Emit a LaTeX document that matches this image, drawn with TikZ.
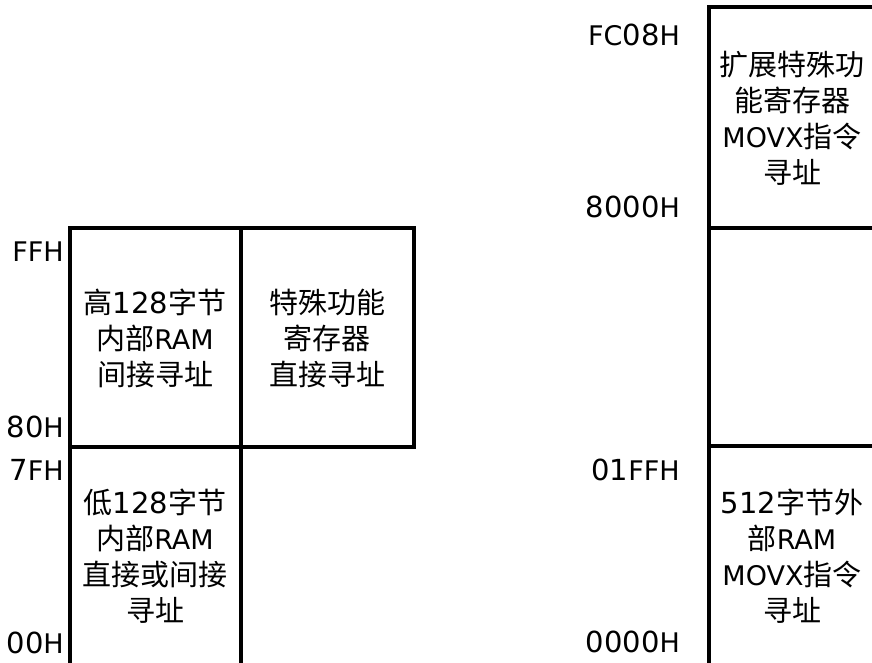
\documentclass[tikz,border=0pt]{standalone}
\usepackage{fontspec}
\setmainfont{DejaVu Sans}
\newfontfamily\cjk{Noto Sans CJK SC}
\newcommand\zh[1]{{\cjk #1}}
\newcommand\lat[1]{{\fontsize{27}{27}\selectfont #1}}
\tikzset{
  addr/.style={anchor=east, inner sep=0pt, font=\fontsize{29}{29}\selectfont},
  cell/.style={align=center, inner sep=0pt, font=\fontsize{29}{36}\selectfont},
  wall/.style={line width=3.5pt},
}
\begin{document}
\begin{tikzpicture}[x=1pt,y=-1pt]
\useasboundingbox (0,0) rectangle (872,663);

% internal RAM
\draw[wall] (70,663) -- (70,228) -- (414,228) -- (414,447) -- (70,447);
\draw[wall] (241,228) -- (241,663);

\node[cell] (HighRAM) at (155,338) {\zh{高}128\zh{字节}\\\zh{内部}\lat{RAM}\\\zh{间接寻址}};
\node[cell] (SFR) at (327,338) {\zh{特殊功能}\\\zh{寄存器}\\\zh{直接寻址}};
\node[cell] (LowRAM) at (155,556) {\zh{低}128\zh{字节}\\\zh{内部}\lat{RAM}\\\zh{直接或间接}\\\zh{寻址}};

\node[addr] (FFH) at (64,252) {\lat{FFH}};
\node[addr] (80H) at (64,427) {80\lat{H}};
\node[addr] (7FH) at (64,470) {7\lat{FH}};
\node[addr] (00H) at (64,643) {00\lat{H}};

% external RAM
\draw[wall] (872,7) -- (709,7) -- (709,663);
\draw[wall] (709,228) -- (872,228);
\draw[wall] (709,446) -- (872,446);

\node[cell] (XSFR) at (792,118) {\zh{扩展特殊功}\\\zh{能寄存器}\\\lat{MOVX}\zh{指令}\\\zh{寻址}};
\node[cell] (XRAM) at (792,556) {512\zh{字节外}\\\zh{部}\lat{RAM}\\\lat{MOVX}\zh{指令}\\\zh{寻址}};

\node[addr] (FC08H) at (680,35) {\lat{FC}08\lat{H}};
\node[addr] (8000H) at (680,207) {8000\lat{H}};
\node[addr] (01FFH) at (680,470) {01\lat{FFH}};
\node[addr] (0000H) at (680,642) {0000\lat{H}};
\end{tikzpicture}
\end{document}
